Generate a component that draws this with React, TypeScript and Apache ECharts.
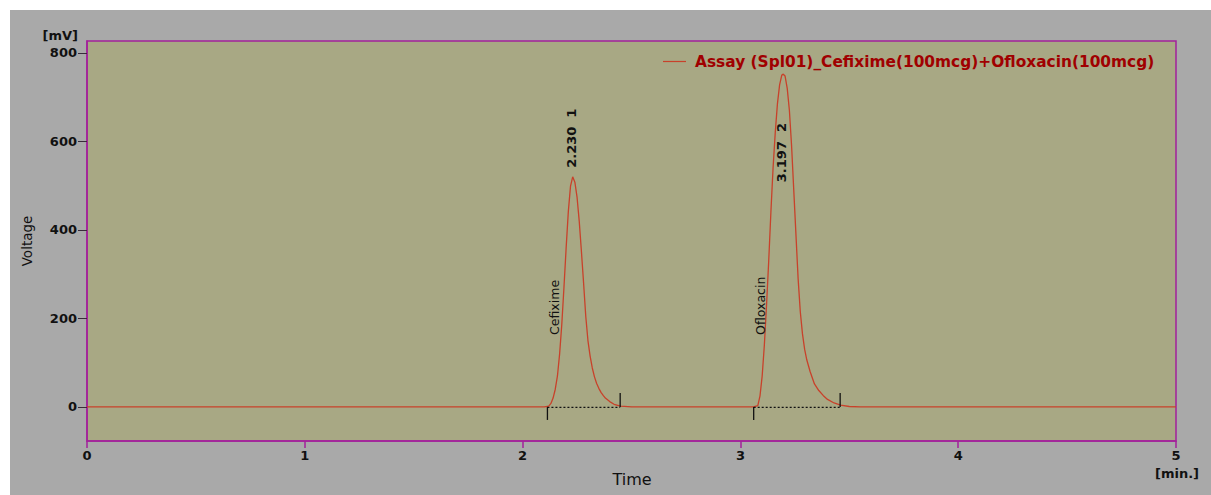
import React, { useEffect, useRef } from "react";
import * as echarts from "echarts";

const SERIES_NAME = "Assay (Spl01)_Cefixime(100mcg)+Ofloxacin(100mcg)";

// chromatogram trace: time [min] / signal [mV]
const chromTime = [
  0, 2.1, 2.12, 2.13, 2.14, 2.15, 2.16, 2.17, 2.18, 2.19, 2.2, 2.21, 2.22, 2.23, 2.24, 2.25, 2.26, 2.27, 2.28, 2.29,
  2.3, 2.31, 2.32, 2.33, 2.34, 2.35, 2.36, 2.37, 2.38, 2.4, 2.42, 2.45, 2.5,
  3.06, 3.08, 3.09, 3.1, 3.11, 3.12, 3.13, 3.14, 3.15, 3.16, 3.17, 3.18, 3.19, 3.197, 3.205, 3.215,
  3.225, 3.235, 3.245, 3.255, 3.265, 3.275, 3.285, 3.295, 3.305, 3.32, 3.34, 3.36, 3.38, 3.4, 3.43,
  3.46, 3.5, 3.55, 5.0,
];
const chromSignal = [
  0, 0, 2, 8, 20, 40, 70, 120, 187, 271, 360, 442, 499, 520, 508, 474, 420, 352, 280, 205,
  150, 115, 88, 68, 53, 42, 33, 26, 20, 12, 6, 2, 0,
  0, 3, 25, 70, 140, 230, 330, 440, 540, 620, 685, 728, 750, 752, 748, 720,
  670, 590, 490, 390, 290, 215, 165, 130, 106, 80, 52, 37, 26, 17, 9,
  4, 1, 0, 0,
];

// peak table
const peakRT = [2.23, 3.197];
const peakHeight = [520, 752];
const peakName = ["Cefixime", "Ofloxacin"];
const peakNumber = [1, 2];
const peakStart = [2.114, 3.061];
const peakEnd = [2.448, 3.458];

// axes
const xTicks = [0, 1, 2, 3, 4, 5];
const yTicks = [0, 200, 400, 600, 800];
const X_MIN = 0;
const X_MAX = 5;
const Y_MIN = -77;
const Y_MAX = 827;

// layout/style constants (not data)
const RT_LABEL_DY = [-9, 108];
const FONT = "DejaVu Sans";
const MAGENTA = "#a3209b";

export default function App() {
  const ref = useRef<HTMLDivElement>(null);

  useEffect(() => {
    if (!ref.current) return;
    const chart = echarts.init(ref.current, undefined, { renderer: "svg" });

    const trace = chromTime.map((t, i) => [t, chromSignal[i]]);
    const labelData = peakRT.map((t, i) => [t, peakHeight[i]]);
    const integData = peakStart.map((s, i) => [s, peakEnd[i]]);

    const option: any = {
      animation: false,
      backgroundColor: "#a9a9a9",
      textStyle: { fontFamily: FONT },
      grid: {
        left: 77,
        top: 31,
        right: 35,
        bottom: 54,
        show: true,
        backgroundColor: "#a8a884",
        borderColor: MAGENTA,
        borderWidth: 1.5,
      },
      legend: {
        show: true,
        data: [{ name: SERIES_NAME, icon: "rect" }],
        left: 653,
        top: 44,
        padding: 0,
        itemWidth: 23,
        itemHeight: 1.2,
        textStyle: {
          color: "#a00000",
          fontWeight: "bold",
          fontSize: 15.4,
          fontFamily: FONT,
          padding: [0, 0, 0, 4],
        },
      },
      xAxis: {
        type: "value",
        min: X_MIN,
        max: X_MAX,
        interval: 1,
        axisLine: { show: true, onZero: false, lineStyle: { color: MAGENTA, width: 1.5 } },
        axisTick: { show: true, length: 7, lineStyle: { color: MAGENTA, width: 1.5 } },
        axisLabel: {
          show: true,
          margin: 8,
          color: "#111",
          fontWeight: "bold",
          fontSize: 13,
          fontFamily: FONT,
          customValues: xTicks,
        },
        splitLine: { show: false },
      },
      yAxis: {
        type: "value",
        min: Y_MIN,
        max: Y_MAX,
        axisLine: { show: true, onZero: false, lineStyle: { color: MAGENTA, width: 1.5 } },
        axisTick: { show: true, length: 9, customValues: yTicks, lineStyle: { color: "#3a2a3a", width: 1 } },
        axisLabel: {
          show: true,
          margin: 10,
          color: "#111",
          fontWeight: "bold",
          fontSize: 13,
          fontFamily: FONT,
          customValues: yTicks,
        },
        splitLine: { show: false },
      },
      graphic: [
        {
          type: "text",
          x: 68,
          y: 25,
          style: {
            text: "[mV]",
            fill: "#111",
            font: `bold 13px "${FONT}"`,
            align: "right",
            verticalAlign: "middle",
          },
        },
        {
          type: "text",
          x: 17,
          y: 231,
          rotation: Math.PI / 2,
          style: {
            text: "Voltage",
            fill: "#111",
            font: `13.5px "${FONT}"`,
            align: "center",
            verticalAlign: "middle",
          },
        },
        {
          type: "text",
          x: 622,
          y: 469,
          style: {
            text: "Time",
            fill: "#111",
            font: `16px "${FONT}"`,
            align: "center",
            verticalAlign: "middle",
          },
        },
        {
          type: "text",
          x: 1167,
          y: 463,
          style: {
            text: "[min.]",
            fill: "#111",
            font: `bold 13px "${FONT}"`,
            align: "center",
            verticalAlign: "middle",
          },
        },
      ],
      series: [
        {
          name: SERIES_NAME,
          type: "line",
          data: trace,
          showSymbol: false,
          symbol: "none",
          lineStyle: { color: "#c8412a", width: 1.3 },
          itemStyle: { color: "#c8412a" },
          z: 3,
        },
        {
          name: "integration",
          type: "custom",
          data: integData,
          z: 4,
          renderItem: (params: any, api: any) => {
            const s = api.coord([api.value(0), 0]);
            const e = api.coord([api.value(1), 0]);
            const ls = { stroke: "#111", lineWidth: 1.3 };
            return {
              type: "group",
              children: [
                { type: "line", shape: { x1: s[0], y1: s[1] + 0.5, x2: e[0], y2: e[1] + 0.5 }, style: { stroke: "#111", lineWidth: 1.3, lineDash: [2, 2] } },
                { type: "line", shape: { x1: s[0], y1: s[1], x2: s[0], y2: s[1] + 13 }, style: ls },
                { type: "line", shape: { x1: e[0], y1: e[1], x2: e[0], y2: e[1] - 14 }, style: ls },
              ],
            };
          },
        },
        {
          name: "peakLabels",
          type: "custom",
          data: labelData,
          z: 5,
          renderItem: (params: any, api: any) => {
            const i = params.dataIndex;
            const apex = api.coord([api.value(0), api.value(1)]);
            const st = api.coord([peakStart[i], 0]);
            return {
              type: "group",
              children: [
                {
                  type: "text",
                  x: apex[0] - 1.5,
                  y: apex[1] + RT_LABEL_DY[i],
                  rotation: Math.PI / 2,
                  style: {
                    text: `${peakRT[i].toFixed(3)}  ${peakNumber[i]}`,
                    fill: "#111",
                    font: `bold 13px "${FONT}"`,
                    align: "left",
                    verticalAlign: "middle",
                  },
                },
                {
                  type: "text",
                  x: st[0] + 7,
                  y: st[1] - 72,
                  rotation: Math.PI / 2,
                  style: {
                    text: peakName[i],
                    fill: "#111",
                    font: `12.5px "${FONT}"`,
                    align: "left",
                    verticalAlign: "middle",
                  },
                },
              ],
            };
          },
        },
      ],
    };

    chart.setOption(option);
    return () => chart.dispose();
  }, []);

  return (
    <div
      ref={ref}
      style={{ position: "fixed", left: 10, top: 10, width: 1201, height: 485 }}
    />
  );
}
